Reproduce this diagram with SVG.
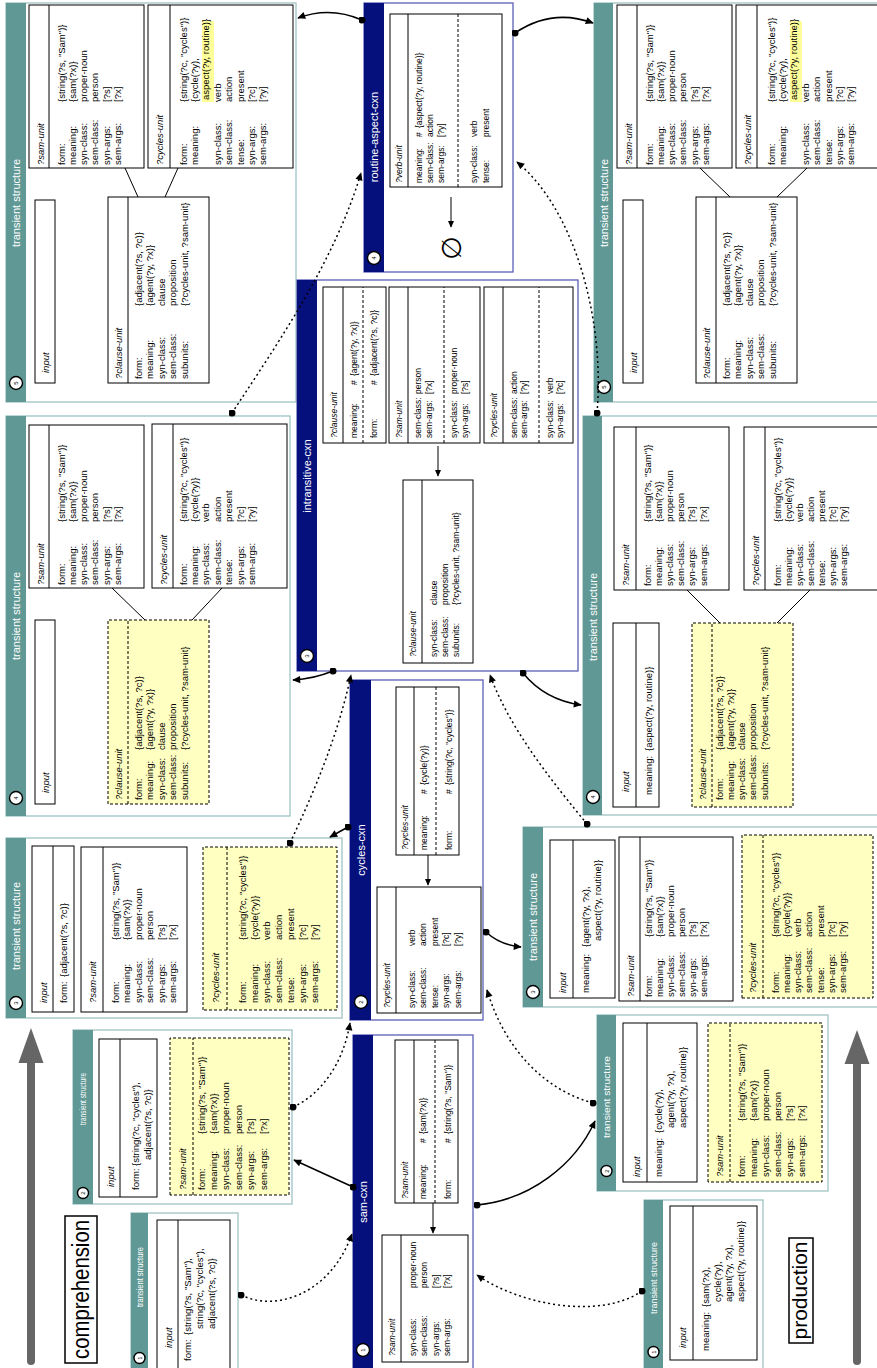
<svg xmlns="http://www.w3.org/2000/svg" width="877" height="1368" viewBox="0 0 877 1368">
<style>
text{font-family:"Liberation Sans",Arial,sans-serif;fill:#000}
.t{font-size:9.5px}
.c{font-size:8.5px}
.i{font-style:italic}
.ht{font-size:11px;fill:#fff;text-anchor:middle}
.hs{font-size:8.5px;fill:#fff;text-anchor:middle}
.num{font-size:6px;text-anchor:middle}
.tsp{fill:#fff;stroke:#9ec4c3;stroke-width:1.3}
.tsh{fill:#5f9894}
.cxp{fill:#fff;stroke:#5a5eb5;stroke-width:1.3}
.cxh{fill:#06107c}
.b{fill:#fff;stroke:#000;stroke-width:1}
.y{fill:#ffffc2;stroke:#000;stroke-width:1;stroke-dasharray:3 2}
.ln{stroke:#000;stroke-width:1;fill:none}
.dl{stroke:#000;stroke-width:1;stroke-dasharray:3 2;fill:none}
.nc{fill:#fff;stroke:#000;stroke-width:1.4}
.hl{fill:#ffff99}
.sc{stroke:#000;stroke-width:1.5;fill:none;marker-start:url(#dot);marker-end:url(#ah)}
.dc{stroke:#000;stroke-width:1.5;fill:none;stroke-dasharray:2 3;marker-start:url(#dot);marker-end:url(#ah)}
.big{fill:#666}
.lbl{fill:#fff;stroke:#000;stroke-width:1.5}
</style>
<defs>
<marker id="ah" viewBox="0 0 10 10" refX="9" refY="5" markerWidth="9" markerHeight="8" markerUnits="userSpaceOnUse" orient="auto"><path d="M0,0.5 L10,5 L0,9.5 z" fill="#000"/></marker>
<marker id="ahs" viewBox="0 0 10 10" refX="9" refY="5" markerWidth="7" markerHeight="7" markerUnits="userSpaceOnUse" orient="auto"><path d="M0,0.5 L10,5 L0,9.5 z" fill="#000"/></marker>
<marker id="dot" viewBox="0 0 10 10" refX="5" refY="5" markerWidth="7" markerHeight="7" markerUnits="userSpaceOnUse"><circle cx="5" cy="5" r="5" fill="#000"/></marker>
</defs>

<!-- direction arrows and labels -->
<g id="comprehension-arrow">
<line x1="31" y1="1361" x2="31" y2="1060" stroke="#666" stroke-width="8" stroke-linecap="round"/>
<polygon class="big" points="31,1028 43.5,1063 18.5,1063"/>
</g>
<g id="production-arrow">
<line x1="857" y1="1361" x2="857" y2="1060" stroke="#666" stroke-width="8" stroke-linecap="round"/>
<polygon class="big" points="857,1030 869.5,1064 844.5,1064"/>
</g>
<g id="comprehension-label" transform="translate(65,1363) rotate(-90)">
<rect class="lbl" x="0" y="0" width="147" height="32"/>
<text x="73.5" y="24" font-size="23" text-anchor="middle" textLength="139" lengthAdjust="spacingAndGlyphs">comprehension</text>
</g>
<g id="production-label" transform="translate(789,1343) rotate(-90)">
<rect class="lbl" x="0" y="0" width="105" height="24"/>
<text x="52.5" y="18" font-size="20" text-anchor="middle" textLength="98" lengthAdjust="spacingAndGlyphs">production</text>
</g>

<!-- ============ COMPREHENSION ============ -->
<g id="ts1c" transform="translate(131,1368) rotate(-90)">
<rect class="tsp" x="-10" y="0" width="165" height="107"/>
<rect class="tsh" x="-10" y="0" width="165" height="17"/>
<circle class="nc" cx="10" cy="8.5" r="5.5"/><text class="num" x="10" y="10.5">1</text>
<text class="hs" x="91" y="12" textLength="60" lengthAdjust="spacingAndGlyphs">transient structure</text>
<rect class="b" x="-5" y="26" width="153" height="73"/>
<line class="ln" x1="-5" y1="47" x2="148" y2="47"/>
<text class="t i" x="20" y="40.5">input</text>
<text class="t" x="7" y="59.5">form:</text>
<text class="t" x="33" y="59.5">{string(?s, "Sam"),</text>
<text class="t" x="39" y="71.5">string(?c, "cycles"),</text>
<text class="t" x="39" y="83.5">adjacent(?s, ?c)}</text>
</g>

<g id="ts2c" transform="translate(73,1204) rotate(-90)">
<rect class="tsp" x="0" y="0" width="174" height="219"/>
<rect class="tsh" x="0" y="0" width="174" height="20"/>
<circle class="nc" cx="11" cy="10" r="5.5"/><text class="num" x="11" y="12">2</text>
<text class="hs" x="105" y="13" textLength="52" lengthAdjust="spacingAndGlyphs">transient structure</text>
<rect class="b" x="7" y="26" width="158" height="58"/>
<line class="ln" x1="7" y1="47" x2="165" y2="47"/>
<text class="t i" x="17" y="40.5">input</text>
<text class="t" x="14" y="65.5">form:</text>
<text class="t" x="38" y="65.5">{string(?c, "cycles"),</text>
<text class="t" x="44" y="77.5">adjacent(?s, ?c)}</text>
<rect class="y" x="9" y="97" width="157" height="119"/>
<line class="dl" x1="9" y1="120" x2="166" y2="120"/>
<text class="t i" x="14" y="112.5">?sam-unit</text>
<text class="t"><tspan x="14" y="131.5">form:</tspan><tspan x="14" y="143.5">meaning:</tspan><tspan x="14" y="156">syn-class:</tspan><tspan x="14" y="168.5">sem-class:</tspan><tspan x="14" y="181">syn-args:</tspan><tspan x="14" y="193.5">sem-args:</tspan></text>
<text class="t"><tspan x="70" y="131.5">{string(?s, "Sam")}</tspan><tspan x="70" y="143.5">{sam(?x)}</tspan><tspan x="70" y="156">proper-noun</tspan><tspan x="70" y="168.5">person</tspan><tspan x="70" y="181">[?s]</tspan><tspan x="70" y="193.5">[?x]</tspan></text>
</g>

<g id="ts3c" transform="translate(6,1018) rotate(-90)">
<rect class="tsp" x="0" y="0" width="180" height="336"/>
<rect class="tsh" x="0" y="0" width="180" height="20"/>
<circle class="nc" cx="15" cy="10" r="6.5"/><text class="num" x="15" y="12">3</text>
<text class="ht" x="92" y="14">transient structure</text>
<rect class="b" x="6" y="26" width="166" height="42"/>
<line class="ln" x1="6" y1="47" x2="172" y2="47"/>
<text class="t i" x="15" y="40.5">input</text>
<text class="t" x="15" y="61">form:</text><text class="t" x="41" y="61">{adjacent(?s, ?c)}</text>
<rect class="b" x="6" y="75" width="165" height="106"/>
<line class="ln" x1="6" y1="97" x2="171" y2="97"/>
<text class="t i" x="15" y="89.5">?sam-unit</text>
<text class="t"><tspan x="15" y="112.5">form:</tspan><tspan x="15" y="124">meaning:</tspan><tspan x="15" y="135.5">syn-class:</tspan><tspan x="15" y="147">sem-class:</tspan><tspan x="15" y="158.5">syn-args:</tspan><tspan x="15" y="170">sem-args:</tspan></text>
<text class="t"><tspan x="78" y="112.5">{string(?s, "Sam")}</tspan><tspan x="78" y="124">{sam(?x)}</tspan><tspan x="78" y="135.5">proper-noun</tspan><tspan x="78" y="147">person</tspan><tspan x="78" y="158.5">[?s]</tspan><tspan x="78" y="170">[?x]</tspan></text>
<rect class="y" x="8" y="197" width="163" height="134"/>
<line class="dl" x1="8" y1="221" x2="171" y2="221"/>
<text class="t i" x="15" y="212.5">?cycles-unit</text>
<text class="t"><tspan x="15" y="239.5">form:</tspan><tspan x="15" y="251.5">meaning:</tspan><tspan x="15" y="263.5">syn-class:</tspan><tspan x="15" y="275.5">sem-class:</tspan><tspan x="15" y="287.5">tense:</tspan><tspan x="15" y="299.5">syn-args:</tspan><tspan x="15" y="311.5">sem-args:</tspan></text>
<text class="t"><tspan x="78" y="239.5">{string(?c, "cycles")}</tspan><tspan x="78" y="251.5">{cycle(?y)}</tspan><tspan x="78" y="263.5">verb</tspan><tspan x="78" y="275.5">action</tspan><tspan x="78" y="287.5">present</tspan><tspan x="78" y="299.5">[?c]</tspan><tspan x="78" y="311.5">[?y]</tspan></text>
</g>

<g id="ts4c" transform="translate(6,816) rotate(-90)">
<rect class="tsp" x="0" y="0" width="400" height="284"/>
<rect class="tsh" x="0" y="0" width="400" height="20"/>
<circle class="nc" cx="18" cy="10" r="6.5"/><text class="num" x="18" y="12">4</text>
<text class="ht" x="200" y="14">transient structure</text>
<rect class="b" x="12" y="29" width="184" height="20"/>
<text class="t i" x="23" y="42.5">input</text>
<rect class="y" x="12" y="102" width="184" height="101"/>
<line class="dl" x1="12" y1="122" x2="196" y2="122"/>
<text class="t i" x="16" y="115.5">?clause-unit</text>
<text class="t"><tspan x="16" y="135.5">form:</tspan><tspan x="16" y="147">meaning:</tspan><tspan x="16" y="158.5">syn-class:</tspan><tspan x="16" y="170">sem-class:</tspan><tspan x="16" y="181.5">subunits:</tspan></text>
<text class="t"><tspan x="66" y="135.5">{adjacent(?s, ?c)}</tspan><tspan x="66" y="147">{agent(?y, ?x)}</tspan><tspan x="66" y="158.5">clause</tspan><tspan x="66" y="170">proposition</tspan><tspan x="66" y="181.5">{?cycles-unit, ?sam-unit}</tspan></text>
<line class="ln" x1="228" y1="106" x2="196" y2="139"/>
<line class="ln" x1="228" y1="216" x2="196" y2="186"/>
<rect class="b" x="228" y="23" width="163" height="115"/>
<line class="ln" x1="228" y1="43" x2="391" y2="43"/>
<text class="t i" x="231" y="37.5">?sam-unit</text>
<text class="t"><tspan x="231" y="58.5">form:</tspan><tspan x="231" y="69.8">meaning:</tspan><tspan x="231" y="81.1">syn-class:</tspan><tspan x="231" y="92.4">sem-class:</tspan><tspan x="231" y="103.7">syn-args:</tspan><tspan x="231" y="115">sem-args:</tspan></text>
<text class="t"><tspan x="294" y="58.5">{string(?s, "Sam")}</tspan><tspan x="294" y="69.8">{sam(?x)}</tspan><tspan x="294" y="81.1">proper-noun</tspan><tspan x="294" y="92.4">person</tspan><tspan x="294" y="103.7">[?s]</tspan><tspan x="294" y="115">[?x]</tspan></text>
<rect class="b" x="228" y="146" width="164" height="135"/>
<line class="ln" x1="228" y1="167" x2="392" y2="167"/>
<text class="t i" x="231" y="160.5">?cycles-unit</text>
<text class="t"><tspan x="231" y="180.5">form:</tspan><tspan x="231" y="191.9">meaning:</tspan><tspan x="231" y="203.3">syn-class:</tspan><tspan x="231" y="214.7">sem-class:</tspan><tspan x="231" y="226.1">tense:</tspan><tspan x="231" y="237.5">syn-args:</tspan><tspan x="231" y="248.9">sem-args:</tspan></text>
<text class="t"><tspan x="294" y="180.5">{string(?c, "cycles")}</tspan><tspan x="294" y="191.9">{cycle(?y)}</tspan><tspan x="294" y="203.3">verb</tspan><tspan x="294" y="214.7">action</tspan><tspan x="294" y="226.1">present</tspan><tspan x="294" y="237.5">[?c]</tspan><tspan x="294" y="248.9">[?y]</tspan></text>
</g>

<g id="ts5c" transform="translate(6,402) rotate(-90)">
<rect class="tsp" x="0" y="0" width="399" height="290"/>
<rect class="tsh" x="0" y="0" width="399" height="20"/>
<circle class="nc" cx="19" cy="10" r="6.5"/><text class="num" x="19" y="12">5</text>
<text class="ht" x="199" y="14">transient structure</text>
<rect class="b" x="19" y="29" width="183" height="20"/>
<text class="t i" x="29" y="42.5">input</text>
<rect class="b" x="19" y="102" width="186" height="101"/>
<line class="ln" x1="19" y1="122" x2="205" y2="122"/>
<text class="t i" x="23" y="115.5">?clause-unit</text>
<text class="t"><tspan x="23" y="135.5">form:</tspan><tspan x="23" y="147">meaning:</tspan><tspan x="23" y="158.5">syn-class:</tspan><tspan x="23" y="170">sem-class:</tspan><tspan x="23" y="181.5">subunits:</tspan></text>
<text class="t"><tspan x="96" y="135.5">{adjacent(?s, ?c)}</tspan><tspan x="96" y="147">{agent(?y, ?x)}</tspan><tspan x="96" y="158.5">clause</tspan><tspan x="96" y="170">proposition</tspan><tspan x="96" y="181.5">{?cycles-unit, ?sam-unit}</tspan></text>
<line class="ln" x1="234" y1="119" x2="205" y2="132"/>
<line class="ln" x1="234" y1="172" x2="205" y2="159"/>
<rect class="b" x="234" y="23" width="163" height="115"/>
<line class="ln" x1="234" y1="43" x2="397" y2="43"/>
<text class="t i" x="237" y="37.5">?sam-unit</text>
<text class="t"><tspan x="237" y="58.5">form:</tspan><tspan x="237" y="69.8">meaning:</tspan><tspan x="237" y="81.1">syn-class:</tspan><tspan x="237" y="92.4">sem-class:</tspan><tspan x="237" y="103.7">syn-args:</tspan><tspan x="237" y="115">sem-args:</tspan></text>
<text class="t"><tspan x="300" y="58.5">{string(?s, "Sam")}</tspan><tspan x="300" y="69.8">{sam(?x)}</tspan><tspan x="300" y="81.1">proper-noun</tspan><tspan x="300" y="92.4">person</tspan><tspan x="300" y="103.7">[?s]</tspan><tspan x="300" y="115">[?x]</tspan></text>
<rect class="b" x="234" y="142" width="163" height="145"/>
<line class="ln" x1="234" y1="164" x2="397" y2="164"/>
<text class="t i" x="237" y="157">?cycles-unit</text>
<rect class="hl" x="300" y="196" width="81" height="12"/>
<text class="t"><tspan x="237" y="180.5">form:</tspan><tspan x="237" y="191.9">meaning:</tspan><tspan x="237" y="214.7">syn-class:</tspan><tspan x="237" y="226.1">sem-class:</tspan><tspan x="237" y="237.5">tense:</tspan><tspan x="237" y="248.9">syn-args:</tspan><tspan x="237" y="260.3">sem-args:</tspan></text>
<text class="t"><tspan x="300" y="180.5">{string(?c, "cycles")}</tspan><tspan x="300" y="191.9">{cycle(?y),</tspan><tspan x="302" y="203.3">aspect(?y, routine)}</tspan><tspan x="300" y="214.7">verb</tspan><tspan x="300" y="226.1">action</tspan><tspan x="300" y="237.5">present</tspan><tspan x="300" y="248.9">[?c]</tspan><tspan x="300" y="260.3">[?y]</tspan></text>
</g>

<!-- ============ CONSTRUCTIONS ============ -->
<g id="sam-cxn" transform="translate(353,1368) rotate(-90)">
<rect class="cxp" x="-10" y="0" width="343" height="120"/>
<rect class="cxh" x="-10" y="0" width="343" height="20"/>
<circle class="nc" cx="18" cy="10" r="6.5"/><text class="num" x="18" y="12">1</text>
<text class="ht" x="166" y="14">sam-cxn</text>
<rect class="b" x="165" y="42" width="163" height="63"/>
<line class="ln" x1="165" y1="61" x2="328" y2="61"/>
<line class="dl" x1="165" y1="82" x2="328" y2="82"/>
<text class="c i" x="169" y="54.5">?sam-unit</text>
<text class="c" x="169" y="72.5">meaning:</text><text class="c" x="225" y="72.5">#</text><text class="c" x="234" y="72.5">{sam(?x)}</text>
<text class="c" x="169" y="97.5">form:</text><text class="c" x="225" y="97.5">#</text><text class="c" x="234" y="97.5">{string(?s, "Sam")}</text>
<line class="ln" x1="165" y1="80" x2="135" y2="80" marker-end="url(#ahs)"/>
<rect class="b" x="6" y="29" width="127" height="86"/>
<line class="ln" x1="6" y1="48" x2="133" y2="48"/>
<text class="c i" x="12" y="42">?sam-unit</text>
<text class="c"><tspan x="12" y="62.5">syn-class:</tspan><tspan x="12" y="74">sem-class:</tspan><tspan x="12" y="85.5">syn-args:</tspan><tspan x="12" y="97">sem-args:</tspan></text>
<text class="c"><tspan x="80" y="62.5">proper-noun</tspan><tspan x="80" y="74">person</tspan><tspan x="80" y="85.5">[?s]</tspan><tspan x="80" y="97">[?x]</tspan></text>
</g>

<g id="cycles-cxn" transform="translate(350,1020) rotate(-90)">
<rect class="cxp" x="0" y="0" width="340" height="133"/>
<rect class="cxh" x="0" y="0" width="340" height="21"/>
<circle class="nc" cx="18" cy="11" r="6.5"/><text class="num" x="18" y="13">2</text>
<text class="ht" x="170" y="15">cycles-cxn</text>
<rect class="b" x="165" y="46" width="168" height="63"/>
<line class="ln" x1="165" y1="64" x2="333" y2="64"/>
<line class="dl" x1="165" y1="86" x2="333" y2="86"/>
<text class="c i" x="170" y="58">?cycles-unit</text>
<text class="c" x="170" y="76.5">meaning:</text><text class="c" x="226" y="76.5">#</text><text class="c" x="235" y="76.5">{cycle(?y)}</text>
<text class="c" x="170" y="101.5">form:</text><text class="c" x="226" y="101.5">#</text><text class="c" x="235" y="101.5">{string(?c, "cycles")}</text>
<line class="ln" x1="165" y1="78" x2="135" y2="78" marker-end="url(#ahs)"/>
<rect class="b" x="7" y="27" width="126" height="104"/>
<line class="ln" x1="7" y1="46" x2="133" y2="46"/>
<text class="c i" x="12" y="40">?cycles-unit</text>
<text class="c"><tspan x="12" y="64.5">syn-class:</tspan><tspan x="12" y="76.1">sem-class:</tspan><tspan x="12" y="87.7">tense:</tspan><tspan x="12" y="99.3">syn-args:</tspan><tspan x="12" y="110.9">sem-args:</tspan></text>
<text class="c"><tspan x="74" y="64.5">verb</tspan><tspan x="74" y="76.1">action</tspan><tspan x="74" y="87.7">present</tspan><tspan x="74" y="99.3">[?c]</tspan><tspan x="74" y="110.9">[?y]</tspan></text>
</g>

<g id="intransitive-cxn" transform="translate(297,671) rotate(-90)">
<rect class="cxp" x="0" y="0" width="391" height="281"/>
<rect class="cxh" x="0" y="0" width="391" height="20"/>
<circle class="nc" cx="15" cy="10" r="6.5"/><text class="num" x="15" y="12">3</text>
<text class="ht" x="195" y="14">intransitive-cxn</text>
<rect class="b" x="228" y="26" width="156" height="63"/>
<line class="ln" x1="228" y1="46" x2="384" y2="46"/>
<line class="dl" x1="228" y1="66" x2="384" y2="66"/>
<text class="c i" x="233" y="39.5">?clause-unit</text>
<text class="c" x="233" y="59.5">meaning:</text><text class="c" x="286" y="59.5">#</text><text class="c" x="295" y="59.5">{agent(?y, ?x)}</text>
<text class="c" x="233" y="79.5">form:</text><text class="c" x="286" y="79.5">#</text><text class="c" x="295" y="79.5">{adjacent(?s, ?c)}</text>
<rect class="b" x="228" y="92" width="156" height="91"/>
<line class="ln" x1="228" y1="111" x2="384" y2="111"/>
<line class="dl" x1="228" y1="147" x2="384" y2="147"/>
<text class="c i" x="233" y="104.5">?sam-unit</text>
<text class="c"><tspan x="233" y="124">sem-class:</tspan><tspan x="233" y="134.5">sem-args:</tspan><tspan x="233" y="160">syn-class:</tspan><tspan x="233" y="170.5">syn-args:</tspan></text>
<text class="c"><tspan x="277" y="124">person</tspan><tspan x="277" y="134.5">[?x]</tspan><tspan x="277" y="160">proper-noun</tspan><tspan x="277" y="170.5">[?s]</tspan></text>
<rect class="b" x="228" y="187" width="156" height="89"/>
<line class="ln" x1="228" y1="206" x2="384" y2="206"/>
<line class="dl" x1="228" y1="242" x2="384" y2="242"/>
<text class="c i" x="233" y="199.5">?cycles-unit</text>
<text class="c"><tspan x="233" y="219.5">sem-class:</tspan><tspan x="233" y="230">sem-args:</tspan><tspan x="233" y="255.5">syn-class:</tspan><tspan x="233" y="266">syn-args:</tspan></text>
<text class="c"><tspan x="277" y="219.5">action</tspan><tspan x="277" y="230">[?y]</tspan><tspan x="277" y="255.5">verb</tspan><tspan x="277" y="266">[?c]</tspan></text>
<line class="ln" x1="225" y1="141" x2="195" y2="141" marker-end="url(#ahs)"/>
<rect class="b" x="8" y="106" width="183" height="70"/>
<line class="ln" x1="8" y1="125" x2="191" y2="125"/>
<text class="c i" x="14" y="118.5">?clause-unit</text>
<text class="c"><tspan x="14" y="139.5">syn-class:</tspan><tspan x="14" y="150.5">sem-class:</tspan><tspan x="14" y="161.5">subunits:</tspan></text>
<text class="c"><tspan x="66" y="139.5">clause</tspan><tspan x="66" y="150.5">proposition</tspan><tspan x="66" y="161.5">{?cycles-unit, ?sam-unit}</tspan></text>
</g>

<g id="routine-aspect-cxn" transform="translate(364,272) rotate(-90)">
<rect class="cxp" x="0" y="0" width="269" height="149"/>
<rect class="cxh" x="0" y="0" width="269" height="20"/>
<circle class="nc" cx="14" cy="10" r="6.5"/><text class="num" x="14" y="12">4</text>
<text class="ht" x="135" y="14">routine-aspect-cxn</text>
<rect class="b" x="85" y="26" width="173" height="112"/>
<line class="ln" x1="85" y1="44" x2="258" y2="44"/>
<line class="dl" x1="85" y1="94" x2="258" y2="94"/>
<text class="c i" x="89" y="37.5">?verb-unit</text>
<text class="c"><tspan x="89" y="57.5">meaning:</tspan><tspan x="89" y="68.5">sem-class:</tspan><tspan x="89" y="80">sem-args:</tspan><tspan x="89" y="112.5">syn-class:</tspan><tspan x="89" y="124.5">tense:</tspan></text>
<text class="c"><tspan x="135" y="57.5">#</tspan><tspan x="135" y="68.5">action</tspan><tspan x="135" y="80">[?y]</tspan><tspan x="135" y="112.5">verb</tspan><tspan x="135" y="124.5">present</tspan></text>
<text class="c" x="144" y="57.5">{aspect(?y, routine)}</text>
<line class="ln" x1="75" y1="87" x2="45" y2="87" marker-end="url(#ahs)"/>
<text x="24" y="97" font-size="27" text-anchor="middle" style="font-family:'DejaVu Sans',sans-serif">∅</text>
</g>

<!-- ============ PRODUCTION ============ -->
<g id="ts1p" transform="translate(644,1368) rotate(-90)">
<rect class="tsp" x="-10" y="0" width="178" height="119"/>
<rect class="tsh" x="-10" y="0" width="178" height="19"/>
<circle class="nc" cx="16" cy="9.5" r="5.5"/><text class="num" x="16" y="11.5">1</text>
<text class="hs" x="90" y="13" textLength="72" lengthAdjust="spacingAndGlyphs">transient structure</text>
<rect class="b" x="8" y="26" width="154" height="87"/>
<line class="ln" x1="8" y1="49" x2="162" y2="49"/>
<text class="t i" x="20" y="41.5">input</text>
<text class="t" x="17" y="64.5">meaning:</text>
<text class="t" x="61" y="64.5">{sam(?x),</text>
<text class="t" x="66" y="76.5">cycle(?y),</text>
<text class="t" x="66" y="88">agent(?y, ?x),</text>
<text class="t" x="66" y="99.5">aspect(?y, routine)}</text>
</g>

<g id="ts2p" transform="translate(597,1191) rotate(-90)">
<rect class="tsp" x="0" y="0" width="176" height="231"/>
<rect class="tsh" x="0" y="0" width="176" height="19"/>
<circle class="nc" cx="20" cy="9.5" r="5.5"/><text class="num" x="20" y="11.5">2</text>
<text class="hs" x="94" y="13" textLength="82" lengthAdjust="spacingAndGlyphs">transient structure</text>
<rect class="b" x="9" y="26" width="159" height="74"/>
<line class="ln" x1="9" y1="50" x2="168" y2="50"/>
<text class="t i" x="14" y="43">input</text>
<text class="t" x="14" y="64.5">meaning:</text>
<text class="t" x="58" y="64.5">{cycle(?y),</text>
<text class="t" x="63" y="76.5">agent(?y, ?x),</text>
<text class="t" x="63" y="88.5">aspect(?y, routine)}</text>
<rect class="y" x="9" y="111" width="159" height="114"/>
<line class="dl" x1="9" y1="133" x2="168" y2="133"/>
<text class="t i" x="14" y="126">?sam-unit</text>
<text class="t"><tspan x="14" y="147.5">form:</tspan><tspan x="14" y="159.5">meaning:</tspan><tspan x="14" y="171.5">syn-class:</tspan><tspan x="14" y="183.5">sem-class:</tspan><tspan x="14" y="195.5">syn-args:</tspan><tspan x="14" y="207.5">sem-args:</tspan></text>
<text class="t"><tspan x="70" y="147.5">{string(?s, "Sam")}</tspan><tspan x="70" y="159.5">{sam(?x)}</tspan><tspan x="70" y="171.5">proper-noun</tspan><tspan x="70" y="183.5">person</tspan><tspan x="70" y="195.5">[?s]</tspan><tspan x="70" y="207.5">[?x]</tspan></text>
</g>

<g id="ts3p" transform="translate(523,1007) rotate(-90)">
<rect class="tsp" x="0" y="0" width="180" height="362"/>
<rect class="tsh" x="0" y="0" width="180" height="20"/>
<circle class="nc" cx="15" cy="10" r="6.5"/><text class="num" x="15" y="12">3</text>
<text class="ht" x="90" y="14">transient structure</text>
<rect class="b" x="9" y="27" width="158" height="65"/>
<line class="ln" x1="9" y1="50" x2="167" y2="50"/>
<text class="t i" x="14" y="42.5">input</text>
<text class="t" x="14" y="65.5">meaning:</text>
<text class="t" x="60" y="65.5">{agent(?y, ?x),</text>
<text class="t" x="66" y="78">aspect(?y, routine)}</text>
<rect class="b" x="6" y="96" width="164" height="114"/>
<line class="ln" x1="6" y1="117" x2="170" y2="117"/>
<text class="t i" x="10" y="110.5">?sam-unit</text>
<text class="t"><tspan x="10" y="128.5">form:</tspan><tspan x="10" y="139.5">meaning:</tspan><tspan x="10" y="150.5">syn-class:</tspan><tspan x="10" y="161.5">sem-class:</tspan><tspan x="10" y="172.5">syn-args:</tspan><tspan x="10" y="183.5">sem-args:</tspan></text>
<text class="t"><tspan x="70" y="128.5">{string(?s, "Sam")}</tspan><tspan x="70" y="139.5">{sam(?x)}</tspan><tspan x="70" y="150.5">proper-noun</tspan><tspan x="70" y="161.5">person</tspan><tspan x="70" y="172.5">[?s]</tspan><tspan x="70" y="183.5">[?x]</tspan></text>
<rect class="y" x="9" y="219" width="163" height="131"/>
<line class="dl" x1="9" y1="240" x2="172" y2="240"/>
<text class="t i" x="14" y="233">?cycles-unit</text>
<text class="t"><tspan x="14" y="255.5">form:</tspan><tspan x="14" y="266.8">meaning:</tspan><tspan x="14" y="278.1">syn-class:</tspan><tspan x="14" y="289.4">sem-class:</tspan><tspan x="14" y="300.7">tense:</tspan><tspan x="14" y="312">syn-args:</tspan><tspan x="14" y="323.3">sem-args:</tspan></text>
<text class="t"><tspan x="70" y="255.5">{string(?c, "cycles")}</tspan><tspan x="70" y="266.8">{cycle(?y)}</tspan><tspan x="70" y="278.1">verb</tspan><tspan x="70" y="289.4">action</tspan><tspan x="70" y="300.7">present</tspan><tspan x="70" y="312">[?c]</tspan><tspan x="70" y="323.3">[?y]</tspan></text>
</g>

<g id="ts4p" transform="translate(583,815) rotate(-90)">
<rect class="tsp" x="0" y="0" width="399" height="300"/>
<rect class="tsh" x="0" y="0" width="399" height="19"/>
<circle class="nc" cx="18" cy="10" r="6.5"/><text class="num" x="18" y="12">4</text>
<text class="ht" x="198" y="14">transient structure</text>
<rect class="b" x="8" y="30" width="184" height="46"/>
<line class="ln" x1="8" y1="53" x2="192" y2="53"/>
<text class="t i" x="23" y="45.5">input</text>
<text class="t" x="20" y="68.5">meaning:</text>
<text class="t" x="64" y="68.5">{aspect(?y, routine)}</text>
<rect class="y" x="8" y="109" width="184" height="101"/>
<line class="dl" x1="8" y1="129" x2="192" y2="129"/>
<text class="t i" x="15" y="122.5">?clause-unit</text>
<text class="t"><tspan x="15" y="139.5">form:</tspan><tspan x="15" y="150.8">meaning:</tspan><tspan x="15" y="162.1">syn-class:</tspan><tspan x="15" y="173.4">sem-class:</tspan><tspan x="15" y="184.7">subunits:</tspan></text>
<text class="t"><tspan x="65" y="139.5">{adjacent(?s, ?c)}</tspan><tspan x="65" y="150.8">{agent(?y, ?x)}</tspan><tspan x="65" y="162.1">clause</tspan><tspan x="65" y="173.4">proposition</tspan><tspan x="65" y="184.7">{?cycles-unit, ?sam-unit}</tspan></text>
<line class="ln" x1="225" y1="104" x2="192" y2="137"/>
<line class="ln" x1="225" y1="227" x2="192" y2="194"/>
<rect class="b" x="225" y="31" width="163" height="115"/>
<line class="ln" x1="225" y1="53" x2="388" y2="53"/>
<text class="t i" x="229" y="46">?sam-unit</text>
<text class="t"><tspan x="229" y="67.5">form:</tspan><tspan x="229" y="78.7">meaning:</tspan><tspan x="229" y="89.9">syn-class:</tspan><tspan x="229" y="101.1">sem-class:</tspan><tspan x="229" y="112.3">syn-args:</tspan><tspan x="229" y="123.5">sem-args:</tspan></text>
<text class="t"><tspan x="293" y="67.5">{string(?s, "Sam")}</tspan><tspan x="293" y="78.7">{sam(?x)}</tspan><tspan x="293" y="89.9">proper-noun</tspan><tspan x="293" y="101.1">person</tspan><tspan x="293" y="112.3">[?s]</tspan><tspan x="293" y="123.5">[?x]</tspan></text>
<rect class="b" x="225" y="161" width="163" height="140"/>
<line class="ln" x1="225" y1="182" x2="388" y2="182"/>
<text class="t i" x="229" y="175.5">?cycles-unit</text>
<text class="t"><tspan x="229" y="197.5">form:</tspan><tspan x="229" y="208.5">meaning:</tspan><tspan x="229" y="219.5">syn-class:</tspan><tspan x="229" y="230.5">sem-class:</tspan><tspan x="229" y="241.5">tense:</tspan><tspan x="229" y="252.5">syn-args:</tspan><tspan x="229" y="263.5">sem-args:</tspan></text>
<text class="t"><tspan x="293" y="197.5">{string(?c, "cycles")}</tspan><tspan x="293" y="208.5">{cycle(?y)}</tspan><tspan x="293" y="219.5">verb</tspan><tspan x="293" y="230.5">action</tspan><tspan x="293" y="241.5">present</tspan><tspan x="293" y="252.5">[?c]</tspan><tspan x="293" y="263.5">[?y]</tspan></text>
</g>

<g id="ts5p" transform="translate(594,402) rotate(-90)">
<rect class="tsp" x="0" y="0" width="399" height="300"/>
<rect class="tsh" x="0" y="0" width="399" height="19"/>
<circle class="nc" cx="15" cy="10" r="6.5"/><text class="num" x="15" y="12">5</text>
<text class="ht" x="199" y="14">transient structure</text>
<rect class="b" x="19" y="29" width="183" height="20"/>
<text class="t i" x="29" y="42.5">input</text>
<rect class="b" x="19" y="102" width="186" height="101"/>
<line class="ln" x1="19" y1="122" x2="205" y2="122"/>
<text class="t i" x="23" y="115.5">?clause-unit</text>
<text class="t"><tspan x="23" y="135.5">form:</tspan><tspan x="23" y="147">meaning:</tspan><tspan x="23" y="158.5">syn-class:</tspan><tspan x="23" y="170">sem-class:</tspan><tspan x="23" y="181.5">subunits:</tspan></text>
<text class="t"><tspan x="96" y="135.5">{adjacent(?s, ?c)}</tspan><tspan x="96" y="147">{agent(?y, ?x)}</tspan><tspan x="96" y="158.5">clause</tspan><tspan x="96" y="170">proposition</tspan><tspan x="96" y="181.5">{?cycles-unit, ?sam-unit}</tspan></text>
<line class="ln" x1="234" y1="106" x2="205" y2="136"/>
<line class="ln" x1="234" y1="213" x2="205" y2="183"/>
<rect class="b" x="234" y="23" width="163" height="115"/>
<line class="ln" x1="234" y1="43" x2="397" y2="43"/>
<text class="t i" x="237" y="37.5">?sam-unit</text>
<text class="t"><tspan x="237" y="58.5">form:</tspan><tspan x="237" y="69.8">meaning:</tspan><tspan x="237" y="81.1">syn-class:</tspan><tspan x="237" y="92.4">sem-class:</tspan><tspan x="237" y="103.7">syn-args:</tspan><tspan x="237" y="115">sem-args:</tspan></text>
<text class="t"><tspan x="300" y="58.5">{string(?s, "Sam")}</tspan><tspan x="300" y="69.8">{sam(?x)}</tspan><tspan x="300" y="81.1">proper-noun</tspan><tspan x="300" y="92.4">person</tspan><tspan x="300" y="103.7">[?s]</tspan><tspan x="300" y="115">[?x]</tspan></text>
<rect class="b" x="234" y="142" width="163" height="150"/>
<line class="ln" x1="234" y1="163" x2="397" y2="163"/>
<text class="t i" x="237" y="156.5">?cycles-unit</text>
<rect class="hl" x="300" y="196" width="81" height="12"/>
<text class="t"><tspan x="237" y="180.5">form:</tspan><tspan x="237" y="191.9">meaning:</tspan><tspan x="237" y="214.7">syn-class:</tspan><tspan x="237" y="226.1">sem-class:</tspan><tspan x="237" y="237.5">tense:</tspan><tspan x="237" y="248.9">syn-args:</tspan><tspan x="237" y="260.3">sem-args:</tspan></text>
<text class="t"><tspan x="300" y="180.5">{string(?c, "cycles")}</tspan><tspan x="300" y="191.9">{cycle(?y),</tspan><tspan x="302" y="203.3">aspect(?y, routine)}</tspan><tspan x="300" y="214.7">verb</tspan><tspan x="300" y="226.1">action</tspan><tspan x="300" y="237.5">present</tspan><tspan x="300" y="248.9">[?c]</tspan><tspan x="300" y="260.3">[?y]</tspan></text>
</g>

<!-- ============ CONNECTORS ============ -->
<g id="connectors">
<path class="sc" d="M353,1187 L294,1160"/>
<path class="sc" d="M348,827 L330,837"/>
<path class="sc" d="M333,671 Q313,679 293,680"/>
<path class="sc" d="M362,20 Q330,6 298,18"/>
<path class="sc" d="M477,1205 C530,1200 575,1165 595,1121"/>
<path class="sc" d="M486,932 Q500,945 521,947"/>
<path class="sc" d="M523,673 Q545,700 581,705"/>
<path class="sc" d="M515,33 Q552,8 593,23"/>
<path class="dc" d="M241,1295 C275,1312 330,1295 352,1234"/>
<path class="dc" d="M293,1107 C320,1095 343,1065 350,1023"/>
<path class="dc" d="M290,843 C315,790 338,735 351,675"/>
<path class="dc" d="M232,413 C280,340 335,260 361,173"/>
<path class="dc" d="M642,1291 C600,1320 520,1305 477,1275"/>
<path class="dc" d="M593,1103 C545,1090 505,1050 487,990"/>
<path class="dc" d="M587,824 C555,785 510,730 490,675"/>
<path class="dc" d="M597,413 C605,320 575,210 517,162"/>
</g>
</svg>
